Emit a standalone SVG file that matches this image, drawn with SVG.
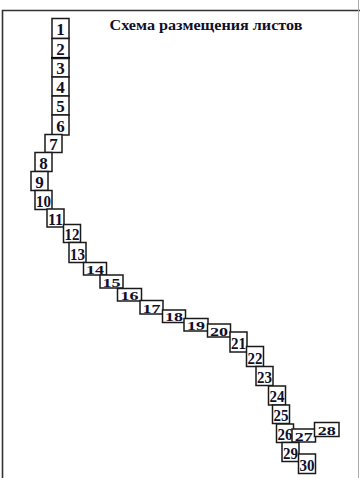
<svg xmlns="http://www.w3.org/2000/svg" width="360" height="478" viewBox="0 0 360 478">
<style>
.b{fill:#fff;stroke:#1a1a1a;stroke-width:1.5}
.t{font-family:"Liberation Serif",serif;font-weight:bold;font-size:17px;fill:#10102a;text-anchor:middle}
.s{font-size:12.5px}
.frame{fill:none;stroke:#333;stroke-width:1.6}
</style>
<rect width="360" height="478" fill="#fff"/>
<path class="frame" d="M2.5,478 V10.5 H360"/>
<line x1="358.5" y1="0" x2="358.5" y2="478" stroke="#aaa" stroke-width="1"/>
<text x="206" y="30" font-family="Liberation Serif,serif" font-weight="bold" font-size="14" fill="#10102a" text-anchor="middle" textLength="193" lengthAdjust="spacingAndGlyphs">Схема размещения листов</text>
<g id="n1"><rect class="b" x="52" y="18.5" width="17" height="20"/><text class="t" x="60.5" y="35">1</text></g>
<g id="n2"><rect class="b" x="52" y="38.5" width="17" height="19.5"/><text class="t" x="60.5" y="54.5">2</text></g>
<line x1="51" y1="58" x2="70" y2="58" stroke="#000" stroke-width="2.2"/>
<g id="n3"><rect class="b" x="52" y="58.5" width="17" height="18.5"/><text class="t" x="60.5" y="74">3</text></g>
<g id="n4"><rect class="b" x="52" y="77" width="17" height="19"/><text class="t" x="60.5" y="93">4</text></g>
<g id="n5"><rect class="b" x="52" y="96" width="17" height="19"/><text class="t" x="60.5" y="112">5</text></g>
<g id="n6"><rect class="b" x="52" y="115" width="17" height="20"/><text class="t" x="60.5" y="132">6</text></g>
<g id="n7"><rect class="b" x="45" y="134.5" width="17" height="18"/><text class="t" x="53.5" y="150">7</text></g>
<g id="n8"><rect class="b" x="35" y="152.5" width="17" height="19"/><text class="t" x="43.5" y="168.5">8</text></g>
<g id="n9"><rect class="b" x="31" y="171.5" width="17" height="19"/><text class="t" x="39.5" y="187.5">9</text></g>
<g id="n10"><rect class="b" x="35" y="190.5" width="17" height="19"/><text class="t" x="43.5" y="206.5" textLength="15" lengthAdjust="spacingAndGlyphs">10</text></g>
<g id="n11"><rect class="b" x="47" y="209" width="17" height="18"/><text class="t" x="55.5" y="224.5" textLength="15" lengthAdjust="spacingAndGlyphs">11</text></g>
<g id="n12"><rect class="b" x="63.5" y="224.5" width="17" height="18"/><text class="t" x="72" y="240" textLength="15" lengthAdjust="spacingAndGlyphs">12</text></g>
<g id="n13"><rect class="b" x="69" y="242.5" width="17" height="20"/><text class="t" x="77.5" y="259.5" textLength="15" lengthAdjust="spacingAndGlyphs">13</text></g>
<g id="n14"><rect class="b" x="83.5" y="262.5" width="23" height="12.5"/><text class="t s" x="95" y="273.5" textLength="18" lengthAdjust="spacingAndGlyphs">14</text></g>
<g id="n15"><rect class="b" x="100" y="275" width="23" height="13"/><text class="t s" x="111.5" y="286.5" textLength="18" lengthAdjust="spacingAndGlyphs">15</text></g>
<g id="n16"><rect class="b" x="117.5" y="288.5" width="24" height="12.5"/><text class="t s" x="129.5" y="299.5" textLength="18" lengthAdjust="spacingAndGlyphs">16</text></g>
<g id="n17"><rect class="b" x="140" y="300.5" width="23" height="13.5"/><text class="t s" x="151.5" y="312.5" textLength="18" lengthAdjust="spacingAndGlyphs">17</text></g>
<g id="n18"><rect class="b" x="162.5" y="310" width="23" height="12.5"/><text class="t s" x="174" y="321" textLength="18" lengthAdjust="spacingAndGlyphs">18</text></g>
<g id="n19"><rect class="b" x="184" y="318.5" width="24" height="12.5"/><text class="t s" x="196" y="329.5" textLength="18" lengthAdjust="spacingAndGlyphs">19</text></g>
<g id="n20"><rect class="b" x="207.5" y="324" width="23" height="13"/><text class="t s" x="219" y="335.5" textLength="18" lengthAdjust="spacingAndGlyphs">20</text></g>
<g id="n21"><rect class="b" x="230" y="332" width="17" height="20"/><text class="t" x="238.5" y="349" textLength="15" lengthAdjust="spacingAndGlyphs">21</text></g>
<g id="n22"><rect class="b" x="246.5" y="346.5" width="17" height="20"/><text class="t" x="255" y="363.5" textLength="15" lengthAdjust="spacingAndGlyphs">22</text></g>
<g id="n23"><rect class="b" x="256" y="366.5" width="17" height="19"/><text class="t" x="264.5" y="382.5" textLength="15" lengthAdjust="spacingAndGlyphs">23</text></g>
<g id="n24"><rect class="b" x="268.5" y="386" width="17" height="19"/><text class="t" x="277" y="402" textLength="15" lengthAdjust="spacingAndGlyphs">24</text></g>
<g id="n25"><rect class="b" x="272.5" y="405" width="17" height="18.5"/><text class="t" x="281" y="420.5" textLength="15" lengthAdjust="spacingAndGlyphs">25</text></g>
<g id="n26"><rect class="b" x="276.5" y="424" width="17" height="18.5"/><text class="t" x="285" y="439.5" textLength="15" lengthAdjust="spacingAndGlyphs">26</text></g>
<g id="n27"><rect class="b" x="292" y="429" width="23.5" height="13"/><text class="t s" x="303.8" y="440.5" textLength="18" lengthAdjust="spacingAndGlyphs">27</text></g>
<g id="n28"><rect class="b" x="314.5" y="422.5" width="24.5" height="14"/><text class="t s" x="326.8" y="434.5" textLength="18" lengthAdjust="spacingAndGlyphs">28</text></g>
<g id="n29"><rect class="b" x="282" y="442.5" width="17" height="19"/><text class="t" x="290.5" y="458.5" textLength="15" lengthAdjust="spacingAndGlyphs">29</text></g>
<g id="n30"><rect class="b" x="298.5" y="454" width="17" height="19.5"/><text class="t" x="307" y="470.5" textLength="15" lengthAdjust="spacingAndGlyphs">30</text></g>
<g id="connectors"></g>
</svg>
